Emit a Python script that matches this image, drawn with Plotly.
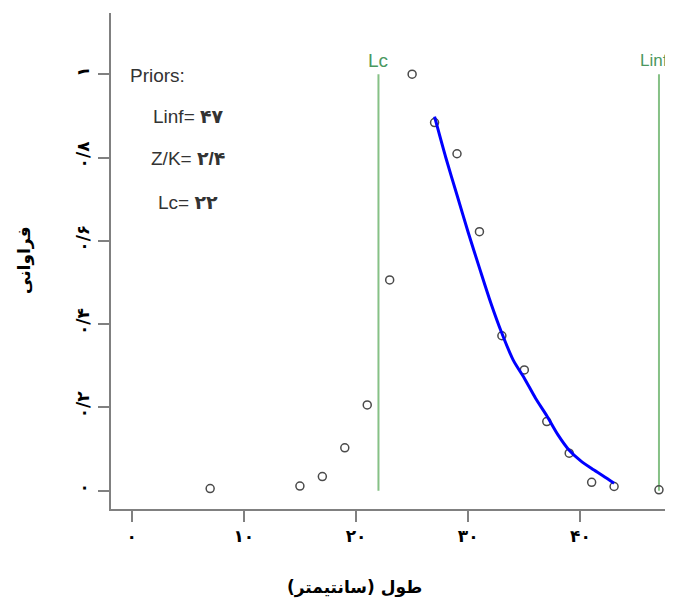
import plotly.graph_objects as go

# ---- data ----
length_cm = [7, 15, 17, 19, 21, 23, 25, 27, 29, 31, 33, 35, 37, 39, 41, 43, 47]
frequency = [0.005, 0.011, 0.034, 0.103, 0.206, 0.506, 1.0, 0.884, 0.809, 0.622,
             0.372, 0.290, 0.166, 0.090, 0.020, 0.010, 0.002]

fit_x = [27, 28, 29, 30, 31, 32, 33, 34, 35, 36, 37, 38, 39, 40, 41, 42, 43]
fit_y = [0.898, 0.80, 0.71, 0.62, 0.535, 0.452, 0.378, 0.314, 0.27, 0.222,
         0.18, 0.134, 0.097, 0.072, 0.053, 0.036, 0.018]

lc_value = 22
linf_value = 47
vline_y = [0, 1]

x_tickvals = [0, 10, 20, 30, 40]
x_ticktext = ["۰", "۱۰", "۲۰", "۳۰", "۴۰"]
y_tickvals = [0, 0.2, 0.4, 0.6, 0.8, 1.0]
y_ticktext = ["۰", "۰/۲", "۰/۴", "۰/۶", "۰/۸", "۱"]

x_title = "طول (سانتیمتر)"
y_title = "فراوانی"
prior_lines = ["Priors:", "Linf= <b>۴۷</b>", "Z/K= <b>۲/۴</b>", "Lc= <b>۲۲</b>"]

FONT = "Liberation Sans, Arial, DejaVu Sans, sans-serif"
AFONT = "DejaVu Sans, sans-serif"
AXIS_GRAY = "#808080"
GREEN_LINE = "#86c186"
GREEN_TEXT = "#4a9860"

fig = go.Figure()

# vertical reference lines
fig.add_trace(go.Scatter(x=[lc_value, lc_value], y=vline_y, mode="lines",
                         line=dict(color=GREEN_LINE, width=2), showlegend=False,
                         hoverinfo="skip"))
fig.add_trace(go.Scatter(x=[linf_value, linf_value], y=vline_y, mode="lines",
                         line=dict(color=GREEN_LINE, width=2), showlegend=False,
                         hoverinfo="skip"))

# observed points
fig.add_trace(go.Scatter(x=length_cm, y=frequency, mode="markers",
                         marker=dict(symbol="circle-open", size=8,
                                     color="#4a4a4a", line=dict(width=1.5)),
                         showlegend=False))

# fitted curve
fig.add_trace(go.Scatter(x=fit_x, y=fit_y, mode="lines",
                         line=dict(color="#0000ff", width=3, shape="spline",
                                   smoothing=0.8),
                         showlegend=False))

annotations = []
# Lc / Linf labels
annotations.append(dict(x=lc_value, y=1.034, xref="x", yref="y", text="Lc",
                        showarrow=False, font=dict(family=FONT, size=19, color=GREEN_TEXT),
                        xanchor="center", yanchor="middle"))
annotations.append(dict(x=linf_value, y=1.034, xref="x", yref="y", text="Linf",
                        showarrow=False, font=dict(family=FONT, size=17, color=GREEN_TEXT),
                        xanchor="left", xshift=-21, yanchor="middle"))

# priors block
prior_pos = [(-0.3, 0.998), (1.75, 0.898), (1.55, 0.798), (2.15, 0.692)]
for txt, (px, py) in zip(prior_lines, prior_pos):
    annotations.append(dict(x=px, y=py, xref="x", yref="y", text=txt,
                            showarrow=False, xanchor="left", yanchor="middle",
                            font=dict(family=FONT, size=19, color="#333333")))

# axis titles
annotations.append(dict(x=19.9, y=-0.159, xref="x", yref="paper", text=x_title,
                        showarrow=False, xanchor="center", yanchor="middle",
                        font=dict(family=AFONT, size=17, color="black", weight="bold")))
annotations.append(dict(x=-0.153, y=0.554, xref="paper", yref="y", text=y_title,
                        showarrow=False, textangle=-90, xanchor="center", yanchor="middle",
                        font=dict(family=AFONT, size=17, color="black", weight="bold")))

# page has an 8px body margin: figure 665x592 so the plot lands at x 111..673, y 13..509
fig.update_layout(
    width=665, height=592,
    margin=dict(l=103, r=0, t=5, b=91),
    paper_bgcolor="white", plot_bgcolor="white",
    annotations=annotations,
    xaxis=dict(range=[-1.836, 48.25], showgrid=False, zeroline=False,
               showline=True, linecolor=AXIS_GRAY, linewidth=1.5,
               ticks="outside", ticklen=11, tickcolor=AXIS_GRAY, tickwidth=1.5,
               tickvals=x_tickvals, ticktext=x_ticktext,
               tickfont=dict(family=AFONT, size=17, color="black", weight="bold")),
    yaxis=dict(range=[-0.044, 1.147], showgrid=False, zeroline=False,
               showline=True, linecolor=AXIS_GRAY, linewidth=1.5,
               ticks="outside", ticklen=11, tickcolor=AXIS_GRAY, tickwidth=1.5,
               tickvals=y_tickvals, ticktext=y_ticktext, tickangle=-90,
               ticklabelstandoff=2,
               tickfont=dict(family=AFONT, size=17, color="black", weight="bold")),
)

fig.write_html("out.html")
